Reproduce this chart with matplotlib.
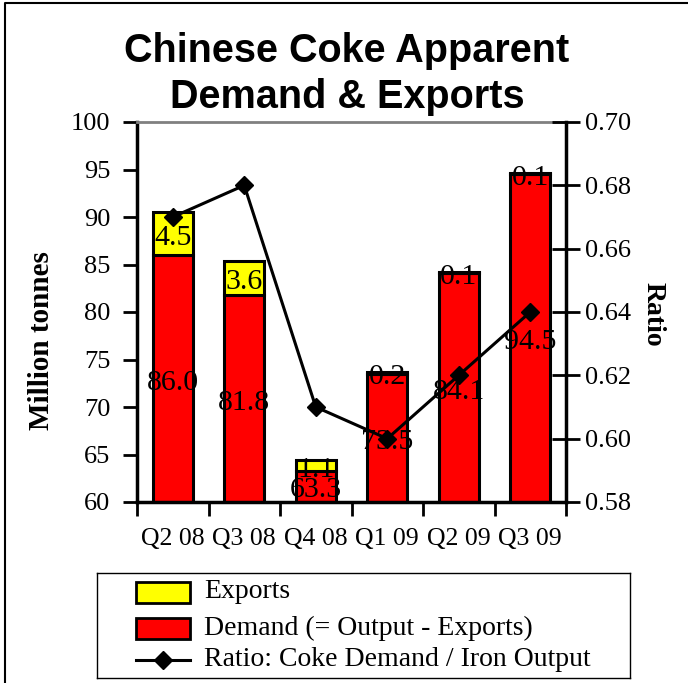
import matplotlib
matplotlib.use('Agg')
import matplotlib.pyplot as plt
from matplotlib.patches import Rectangle
from matplotlib.lines import Line2D
import numpy as np

categories = ["Q2 08", "Q3 08", "Q4 08", "Q1 09", "Q2 09", "Q3 09"]
demand = [86.0, 81.8, 63.3, 73.5, 84.1, 94.5]
exports = [4.5, 3.6, 1.1, 0.2, 0.1, 0.1]
ratio = [0.67, 0.68, 0.61, 0.60, 0.62, 0.64]
left_ticks = [60, 65, 70, 75, 80, 85, 90, 95, 100]
right_ticks = [0.58, 0.60, 0.62, 0.64, 0.66, 0.68, 0.70]

SERIF = 'Liberation Serif'
SANS = 'Liberation Sans'
W, H = 688, 683
fig = plt.figure(figsize=(W / 100, H / 100), dpi=100)

def fx(px):
    return px / W

def fy(py):
    return 1 - py / H

# outer frame
fig.add_artist(Line2D([fx(5), fx(5), 1.0], [0.0, fy(3), fy(3)], color='black', lw=1.5,
                      transform=fig.transFigure))

ax = fig.add_axes([fx(137), fy(502), fx(566) - fx(137), fy(122) - fy(502)])
x = np.arange(len(categories))
ax.bar(x, demand, width=0.56, color='#FF0000', edgecolor='black', linewidth=2.2, zorder=2)
ax.bar(x, exports, bottom=demand, width=0.56, color='#FFFF00', edgecolor='black',
       linewidth=2.2, zorder=2)
ax.set_xlim(-0.5, len(categories) - 0.5)
ax.set_ylim(60, 100)
ax.set_yticks(left_ticks)
ax.set_yticklabels([str(v) for v in left_ticks], fontsize=19, family=SERIF)
ax.tick_params(axis='y', direction='out', length=10, width=2, pad=9)

ax.set_xticks(np.arange(len(categories) + 1) - 0.5)
ax.set_xticklabels([])
ax.tick_params(axis='x', which='major', direction='out', length=10, width=2)
ax.set_xticks(x, minor=True)
ax.set_xticklabels(categories, minor=True, fontsize=18.5, family=SERIF)
ax.tick_params(axis='x', which='minor', length=0, pad=19)

for s in ['left', 'bottom']:
    ax.spines[s].set_linewidth(2.5)
    ax.spines[s].set_color('black')
ax.spines['top'].set_color('#808080')
ax.spines['top'].set_linewidth(2)
ax.spines['right'].set_visible(False)

for i in range(len(categories)):
    ax.annotate(f"{demand[i]:.1f}", (x[i], (60 + demand[i]) / 2), xytext=(0, -3),
                textcoords='offset points', ha='center', va='center',
                fontsize=21.5, family=SERIF, zorder=3)
    ax.annotate(f"{exports[i]:.1f}", (x[i], demand[i] + exports[i] / 2), xytext=(0, -3),
                textcoords='offset points', ha='center', va='center',
                fontsize=21.5, family=SERIF, zorder=3)

ax2 = ax.twinx()
ax2.plot(x, ratio, color='black', lw=2.2, marker='D', ms=9, zorder=4)
ax2.set_ylim(0.58, 0.70)
ax2.set_yticks(right_ticks)
ax2.set_yticklabels([f"{v:.2f}" for v in right_ticks], fontsize=19, family=SERIF)
ax2.tick_params(axis='y', direction='inout', length=20, width=2, pad=4)
for s in ['top', 'left', 'bottom']:
    ax2.spines[s].set_visible(False)
ax2.spines['right'].set_linewidth(2.5)

# title
fig.text(fx(347), fy(62), "Chinese Coke Apparent", ha='center', va='baseline',
         fontsize=28.5, weight='bold', family=SANS)
fig.text(fx(347), fy(108), "Demand & Exports", ha='center', va='baseline',
         fontsize=28.5, weight='bold', family=SANS)

fig.text(fx(42), fy(341), "Million tonnes", rotation=90, ha='center', va='center',
         fontsize=21, weight='bold', family=SERIF)
fig.text(fx(653), fy(314), "Ratio", rotation=-90, ha='center', va='center',
         fontsize=20, weight='bold', family=SERIF)

# legend
lax = fig.add_axes([fx(97), fy(678), fx(630) - fx(97), fy(573) - fy(678)])
lax.set_xlim(97, 630)
lax.set_ylim(678, 573)
lax.set_xticks([])
lax.set_yticks([])
for s in lax.spines.values():
    s.set_linewidth(1)
    s.set_color('black')
lax.add_patch(Rectangle((136, 582), 54, 21, facecolor='#FFFF00', edgecolor='black', lw=2))
lax.add_patch(Rectangle((136, 618), 54, 21, facecolor='#FF0000', edgecolor='black', lw=2))
lax.add_line(Line2D([136, 190], [660, 660], color='black', lw=2.2))
lax.plot([163], [660], marker='D', ms=9, color='black')
labels = ["Exports", "Demand (= Output - Exports)", "Ratio: Coke Demand / Iron Output"]
for yy, lab in zip([592, 628, 660], labels):
    lax.text(204, yy, lab, ha='left', va='center', fontsize=20, family=SERIF)

fig.savefig('out.png', dpi=100)
